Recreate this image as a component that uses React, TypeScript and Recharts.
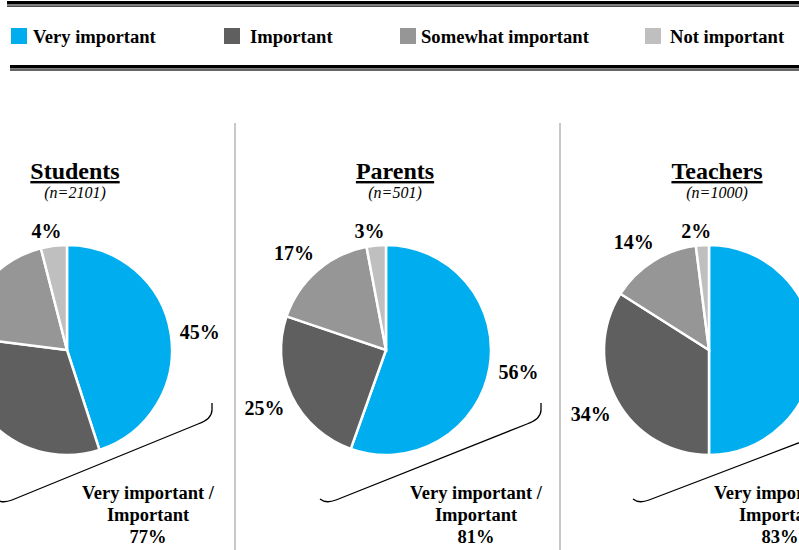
import React from 'react';
import { PieChart, Pie, Cell, Legend } from 'recharts';

// Survey categories, in the order the slices run clockwise from 12 o'clock.
const CATEGORIES = ['Very important', 'Important', 'Somewhat important', 'Not important'];
const COLORS = ['#00AEEF', '#5F5F5F', '#969696', '#BFBFBF'];

const GROUPS = ['Students', 'Parents', 'Teachers'];
const SAMPLE_SIZES = [2101, 501, 1000];
const STUDENTS = [45, 32, 19, 4];
const PARENTS = [56, 25, 17, 3];
const TEACHERS = [50, 34, 14, 2];
const TOP_TWO = [77, 81, 83];

const SERIES = [STUDENTS, PARENTS, TEACHERS];

// layout for each panel (pie centre, title centre, summary text centre, bracket anchors)
const PANELS = [
  { cx: 67, title: 75, note: 148, bracketL: -4, bracketR: 212 },
  { cx: 386, title: 395, note: 476, bracketL: 320, bracketR: 541 },
  { cx: 709, title: 717, note: 780, bracketL: 633, bracketR: 862 },
];
const LEGEND_SQUARES = [11, 224, 400, 645];
const LEGEND_TEXT = [33, 250, 421, 670];

const FONT = '"Liberation Serif", "Times New Roman", serif';
const WIDTH = 799;
const PIE_CY = 350;
const PIE_R = 105;
const RAD = Math.PI / 180;

const renderLabel = (p: any) => {
  const dx = Math.cos(-p.midAngle * RAD);
  const dy = Math.sin(-p.midAngle * RAD);
  const text = `${p.value}%`;
  // push the label out so that its box clears the pie edge
  const halfW = (text.length - 1) * 5 + 10;
  const off = 8.5 + Math.abs(dx) * halfW + Math.abs(dy) * 8;
  const r = p.outerRadius + off;
  const x = p.cx + r * dx - (dy < -0.5 && dx < 0 ? 5 : 0);
  const y = p.cy + r * dy + (dy < 0 ? 3 : -1);
  // labels that land entirely outside the picture are not shown there either
  if (x + halfW < 4 || x - halfW > WIDTH - 4) return null;
  return (
    <text
      x={x}
      y={y}
      textAnchor="middle"
      dominantBaseline="central"
      fontFamily={FONT}
      fontWeight="bold"
      fontSize={20}
      fill="#000"
    >
      {text}
    </text>
  );
};

const LegendContent = () => (
  <div style={{ position: 'relative', width: WIDTH, height: 70, fontFamily: FONT }}>
    {CATEGORIES.map((c, i) => (
      <React.Fragment key={c}>
        <div
          style={{
            position: 'absolute', left: LEGEND_SQUARES[i], top: 28,
            width: 16, height: 16, background: COLORS[i],
          }}
        />
        <div
          style={{
            position: 'absolute', left: LEGEND_TEXT[i], top: 26,
            fontSize: 18.6, fontWeight: 'bold', lineHeight: '22px', color: '#000', whiteSpace: 'nowrap',
          }}
        >
          {c}
        </div>
      </React.Fragment>
    ))}
  </div>
);

export default function App() {
  return (
    <div style={{ position: 'absolute', left: 0, top: 0, width: WIDTH, height: 550, background: '#fff', overflow: 'hidden' }}>
      <PieChart width={WIDTH} height={550} margin={{ top: 0, right: 0, bottom: 0, left: 0 }}>
        <Legend
          content={<LegendContent />}
          wrapperStyle={{ position: 'absolute', left: 0, top: 0, width: WIDTH, height: 70 }}
        />
        {/* double rules above and below the legend */}
        <rect x={7} y={1} width={792} height={3.5} fill="#000" />
        <rect x={7} y={5.5} width={792} height={1.2} fill="#000" />
        <rect x={10} y={65} width={789} height={3.5} fill="#000" />
        <rect x={10} y={69.4} width={789} height={1.2} fill="#000" />
        {/* panel separators */}
        <line x1={235} y1={123} x2={235} y2={550} stroke="#C8C8C8" strokeWidth={2} />
        <line x1={560} y1={123} x2={560} y2={550} stroke="#C8C8C8" strokeWidth={2} />
        {GROUPS.map((g, gi) => {
          const p = PANELS[gi];
          const L = p.bracketL;
          const R = p.bracketR;
          return (
            <g key={g}>
              <text
                x={p.title} y={179} textAnchor="middle" fontFamily={FONT} fontWeight="bold"
                fontSize={24} fill="#000" style={{ textDecoration: 'underline' }}
              >
                {g}
              </text>
              <text x={p.title} y={198} textAnchor="middle" fontFamily={FONT} fontStyle="italic" fontSize={16} fill="#000">
                {`(n=${SAMPLE_SIZES[gi]})`}
              </text>
              <path
                d={`M ${R} 403 L ${R} 410 Q ${R} 419 ${R - 14} 424 L ${L + 16} 500 Q ${L + 6} 504 ${L} 499`}
                fill="none" stroke="#000" strokeWidth={1.3}
              />
              <text textAnchor="middle" fontFamily={FONT} fontWeight="bold" fontSize={18.5} fill="#000">
                <tspan x={p.note} y={499}>Very important /</tspan>
                <tspan x={p.note} y={521}>Important</tspan>
                <tspan x={p.note} y={543}>{`${TOP_TWO[gi]}%`}</tspan>
              </text>
            </g>
          );
        })}
        {SERIES.map((vals, gi) => (
          <Pie
            key={GROUPS[gi]}
            data={vals.map((v, i) => ({ name: CATEGORIES[i], value: v }))}
            dataKey="value"
            nameKey="name"
            cx={PANELS[gi].cx}
            cy={PIE_CY}
            outerRadius={PIE_R}
            startAngle={90}
            endAngle={-270}
            stroke="#fff"
            strokeWidth={2.5}
            label={renderLabel}
            labelLine={false}
            isAnimationActive={false}
          >
            {vals.map((_, i) => (
              <Cell key={i} fill={COLORS[i]} />
            ))}
          </Pie>
        ))}
      </PieChart>
    </div>
  );
}
